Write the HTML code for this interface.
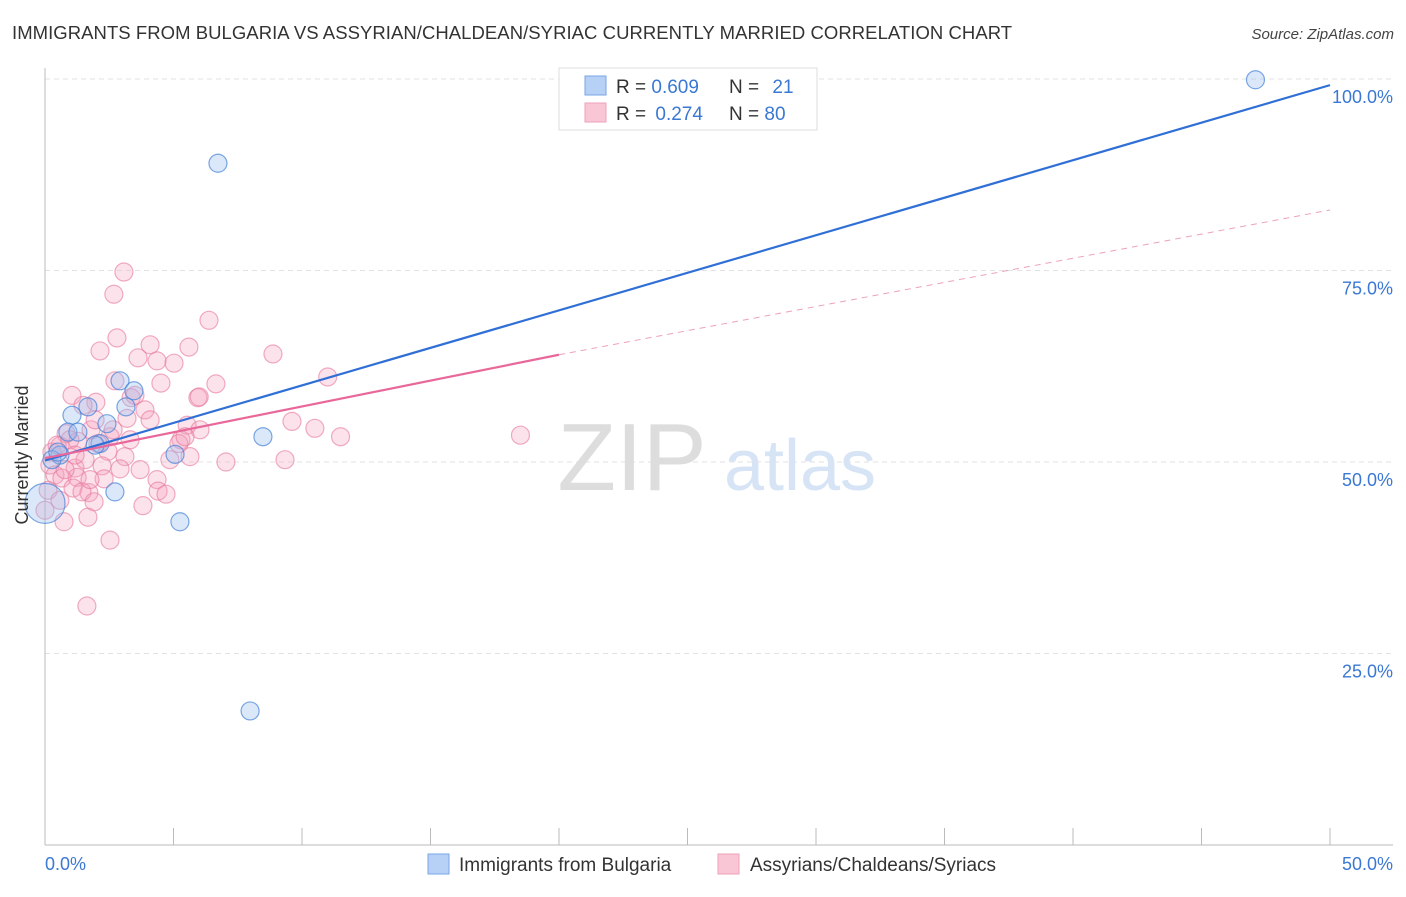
<!DOCTYPE html>
<html><head><meta charset="utf-8"><style>
body{margin:0;background:#fff;font-family:"Liberation Sans",sans-serif;}
svg text{font-family:"Liberation Sans",sans-serif;}
</style></head><body>
<svg id="chart" width="1406" height="892" xmlns="http://www.w3.org/2000/svg">
<text x="12" y="39" font-size="18.5" letter-spacing="0.05" fill="#333">IMMIGRANTS FROM BULGARIA VS ASSYRIAN/CHALDEAN/SYRIAC CURRENTLY MARRIED CORRELATION CHART</text>
<text x="1394" y="39" font-size="15" fill="#444" text-anchor="end" font-style="italic">Source: ZipAtlas.com</text>
<g id="grid"></g>
<text x="632" y="490" font-size="96" fill="#ddd" text-anchor="middle" font-family="Liberation Serif">ZIP</text>
<text x="800" y="490" font-size="72" fill="#d6e4f5" text-anchor="middle">atlas</text>
<g id="points"></g>
<g id="lines"></g>
<text transform="translate(28,455) rotate(-90)" font-size="18" fill="#333" text-anchor="middle">Currently Married</text>
<g>
<rect x="559" y="68" width="258" height="62" fill="#fff" stroke="#ddd"/>
<rect x="585" y="76" width="21" height="19" fill="#b7d0f5" stroke="#7aa5e6"/>
<rect x="585" y="103" width="21" height="19" fill="#f9c6d6" stroke="#eea0b8"/>
<text x="616" y="93" font-size="19" fill="#333">R = <tspan fill="#3a78d4">0.609</tspan></text>
<text x="729" y="93" font-size="19" fill="#333">N = <tspan fill="#3a78d4" dx="8">21</tspan></text>
<text x="616" y="120" font-size="19" fill="#333">R = <tspan fill="#3a78d4" dx="4">0.274</tspan></text>
<text x="729" y="120" font-size="19" fill="#333">N = <tspan fill="#3a78d4">80</tspan></text>
</g>
<g>
<rect x="428" y="854" width="21" height="20" fill="#b7d0f5" stroke="#7aa5e6"/>
<text x="459" y="871" font-size="19" fill="#333">Immigrants from Bulgaria</text>
<rect x="718" y="854" width="21" height="20" fill="#f9c6d6" stroke="#eea0b8"/>
<text x="750" y="871" font-size="19" fill="#333">Assyrians/Chaldeans/Syriacs</text>
</g>
<text x="45" y="870" font-size="18" fill="#3a78d4">0.0%</text>
<text x="1393" y="870" font-size="18" fill="#3a78d4" text-anchor="end">50.0%</text>
</svg>
<script>
const yTicks=[25,50,75,100];
const yTickLabels=["25.0%","50.0%","75.0%","100.0%"];
const xTicks=[0,5,10,15,20,25,30,35,40,45,50];
const blueX=[47.1,6.73,7.98,8.48,5.25,5.06,2.72,2.92,3.46,3.15,2.41,1.05,1.67,0.89,2.14,0.58,0.27,0,1.28,0.5,1.95];
const blueY=[99.9,89.0,17.5,53.3,42.2,51.0,46.1,60.6,59.3,57.2,55.0,56.1,57.2,53.9,52.4,50.9,50.3,44.6,53.9,51.3,52.2];
const blueR=[9,9,9,9,9,9,9,9,9,9,9,9,9,9,9,9,9,20,9,9,9];
const pinkX=[3.07,2.68,6.38,2.8,2.14,4.09,5.6,8.87,3.62,4.36,5.02,11.0,4.51,6.65,2.72,1.05,3.35,5.95,6.0,1.98,3.89,1.48,9.61,5.53,3.19,10.5,11.5,18.5,5.29,5.21,2.53,0.82,1.28,2.06,1.79,0.58,2.45,3.11,5.64,7.04,9.34,0.19,1.17,2.22,2.92,0.39,0.66,1.25,2.3,4.36,1.09,1.71,1.44,4.4,4.71,1.91,3.81,1.67,0.74,2.53,1.63,0,0.12,0.27,0.47,0.97,1.56,2.65,3.5,6.03,5.45,1.95,0.78,3.31,0.58,4.09,4.86,1.75,3.70,1.17];
const pinkY=[74.8,71.9,68.5,66.2,64.5,65.3,65.0,64.1,63.6,63.2,62.9,61.1,60.3,60.2,60.6,58.7,58.4,58.4,58.5,57.8,56.8,57.4,55.3,54.8,55.7,54.4,53.3,53.5,52.9,52.4,53.3,53.7,52.7,52.4,54.2,52.1,51.4,50.7,50.7,50.0,50.3,49.6,49.2,49.5,49.1,48.3,47.9,48.0,47.8,47.7,46.6,46.0,46.1,46.2,45.8,44.8,44.3,42.8,42.2,39.8,31.2,43.7,46.3,51.3,52.2,52.9,50.3,54.2,58.7,54.2,53.3,55.5,49.0,52.9,45.0,55.5,50.3,47.7,49.0,50.9];
const blueLine=[[0,50.2],[50,99.2]];
const pinkSolid=[[0,50.5],[20,64.0]];
const pinkDash=[[20,64.0],[50,82.9]];

const NS="http://www.w3.org/2000/svg";
const xs=v=>45+v*25.7;
const ys=v=>845-v*7.66;
function mk(tag,attrs,parent){const e=document.createElementNS(NS,tag);for(const k in attrs)e.setAttribute(k,attrs[k]);parent.appendChild(e);return e;}
const grid=document.getElementById('grid');
yTicks.forEach((t,i)=>{
  const l=mk('line',{x1:45,x2:1393,y1:ys(t),y2:ys(t),stroke:'#e2e2e2','stroke-dasharray':'5,4'},grid);
  
  
  const tx=mk('text',{x:1393,y:ys(t)+24,'font-size':18,fill:'#3a78d4','text-anchor':'end'},grid);
  tx.textContent=yTickLabels[i];
  
  
});
const ax=mk('line',{x1:45,x2:1393,y1:845,y2:845,stroke:'#bbb'},grid);


const ay=mk('line',{x1:45,x2:45,y1:68,y2:845,stroke:'#bbb'},grid);


xTicks.forEach(t=>{
  const l=mk('line',{x1:xs(t),x2:xs(t),y1:828,y2:845,stroke:'#bbb'},grid);
  
  
});
const pts=document.getElementById('points');
pinkX.forEach((x,i)=>{
  const c=mk('circle',{cx:xs(x),cy:ys(pinkY[i]),r:9,fill:'rgba(245,160,190,0.3)',stroke:'rgba(230,120,155,0.6)','stroke-width':1.2},pts);
  
  
});
blueX.forEach((x,i)=>{
  const c=mk('circle',{cx:xs(x),cy:ys(blueY[i]),r:blueR[i],fill:'rgba(150,190,240,0.35)',stroke:'rgba(70,130,215,0.7)','stroke-width':1.2},pts);
  
  
});
const ln=document.getElementById('lines');
const b=mk('line',{x1:xs(blueLine[0][0]),y1:ys(blueLine[0][1]),x2:xs(blueLine[1][0]),y2:ys(blueLine[1][1]),stroke:'#2f6fd6','stroke-width':2.2},ln);


const p=mk('line',{x1:xs(pinkSolid[0][0]),y1:ys(pinkSolid[0][1]),x2:xs(pinkSolid[1][0]),y2:ys(pinkSolid[1][1]),stroke:'#e8689a','stroke-width':2.2},ln);


const pd=mk('line',{x1:xs(pinkDash[0][0]),y1:ys(pinkDash[0][1]),x2:xs(pinkDash[1][0]),y2:ys(pinkDash[1][1]),stroke:'#eea0bb','stroke-width':1,'stroke-dasharray':'6,5'},ln);


</script>
</body></html>
